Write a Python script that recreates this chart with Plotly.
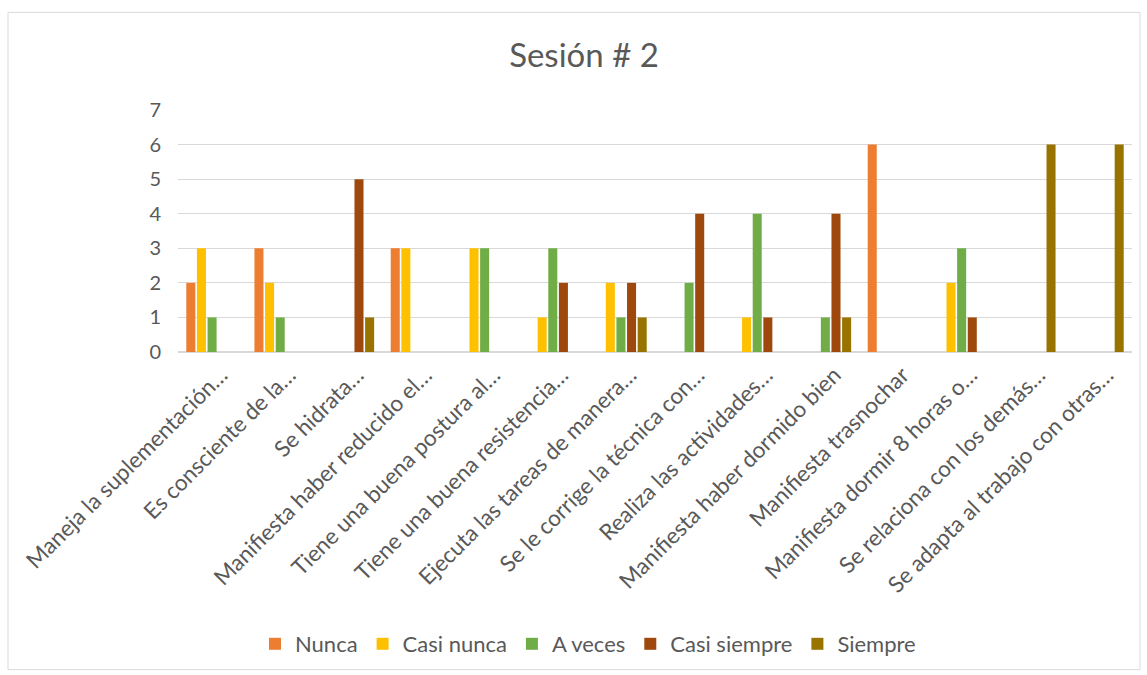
import plotly.graph_objects as go

categories = [
    "Maneja la suplementación…",
    "Es consciente de la…",
    "Se hidrata…",
    "Manifiesta haber reducido el…",
    "Tiene una buena postura al…",
    "Tiene una buena resistencia…",
    "Ejecuta las tareas de manera…",
    "Se le corrige la técnica con…",
    "Realiza las actividades…",
    "Manifiesta haber dormido bien",
    "Manifiesta trasnochar",
    "Manifiesta dormir 8 horas o…",
    "Se relaciona con los demás…",
    "Se adapta al trabajo con otras…",
]

nunca        = [2, 3, 0, 3, 0, 0, 0, 0, 0, 0, 6, 0, 0, 0]
casi_nunca   = [3, 2, 0, 3, 3, 1, 2, 0, 1, 0, 0, 2, 0, 0]
a_veces      = [1, 1, 0, 0, 3, 3, 1, 2, 4, 1, 0, 3, 0, 0]
casi_siempre = [0, 0, 5, 0, 0, 2, 2, 4, 1, 4, 0, 1, 0, 0]
siempre      = [0, 0, 1, 0, 0, 0, 1, 0, 0, 1, 0, 0, 6, 6]

series = [
    ("Nunca", nunca, "#ED7D31"),
    ("Casi nunca", casi_nunca, "#FFC000"),
    ("A veces", a_veces, "#70AD47"),
    ("Casi siempre", casi_siempre, "#9E480E"),
    ("Siempre", siempre, "#997300"),
]

FONT = "Lato"
GREY = "#595959"

fig = go.Figure()
for name, vals, color in series:
    fig.add_trace(go.Bar(
        x=categories, y=vals, name=name,
        marker=dict(color=color, line=dict(width=0)),
    ))

L, R, T, B = 178, 15, 110, 322
W, H = 1147, 675
pw = W - L - R
ph = H - T - B

def px_x(p):
    return (p - L) / pw

def px_y(p):
    return (H - B - p) / ph

fig.update_layout(
    width=W, height=H,
    margin=dict(l=L, r=R, t=T, b=B),
    paper_bgcolor="white", plot_bgcolor="white",
    barmode="group", bargap=0.22, bargroupgap=0.15,
    font=dict(family=FONT, color=GREY, size=20),
    title=dict(text="Sesión # 2", x=584 / W, xref="container", xanchor="center",
               y=1 - 55 / H, yref="container", yanchor="middle",
               font=dict(family=FONT, size=33, color=GREY)),
    legend=dict(orientation="h", x=px_x(588), xanchor="center",
                y=px_y(644), yanchor="middle",
                font=dict(family=FONT, size=22, color=GREY),
                itemwidth=30, traceorder="normal"),
    xaxis=dict(tickangle=-45, showgrid=False, showline=True, linecolor="#D9D9D9",
               linewidth=1, ticks="", ticklabelshift=9,
               tickfont=dict(family=FONT, size=22.5, color=GREY)),
    yaxis=dict(range=[0, 7], dtick=1, showgrid=True, gridcolor="#D9D9D9", gridwidth=1,
               zeroline=True, zerolinecolor="#D9D9D9", showline=False, ticks="",
               ticklabelstandoff=16,
               tickfont=dict(family=FONT, size=20, color=GREY)),
    shapes=[dict(type="rect", xref="paper", yref="paper",
                 x0=px_x(8), x1=px_x(1140), y0=px_y(672), y1=px_y(12),
                 line=dict(color="#D9D9D9", width=1), fillcolor="rgba(0,0,0,0)",
                 layer="below")],
)

fig.write_html("out.html", config={"displayModeBar": False},
               post_script="document.body.style.margin='0';")
